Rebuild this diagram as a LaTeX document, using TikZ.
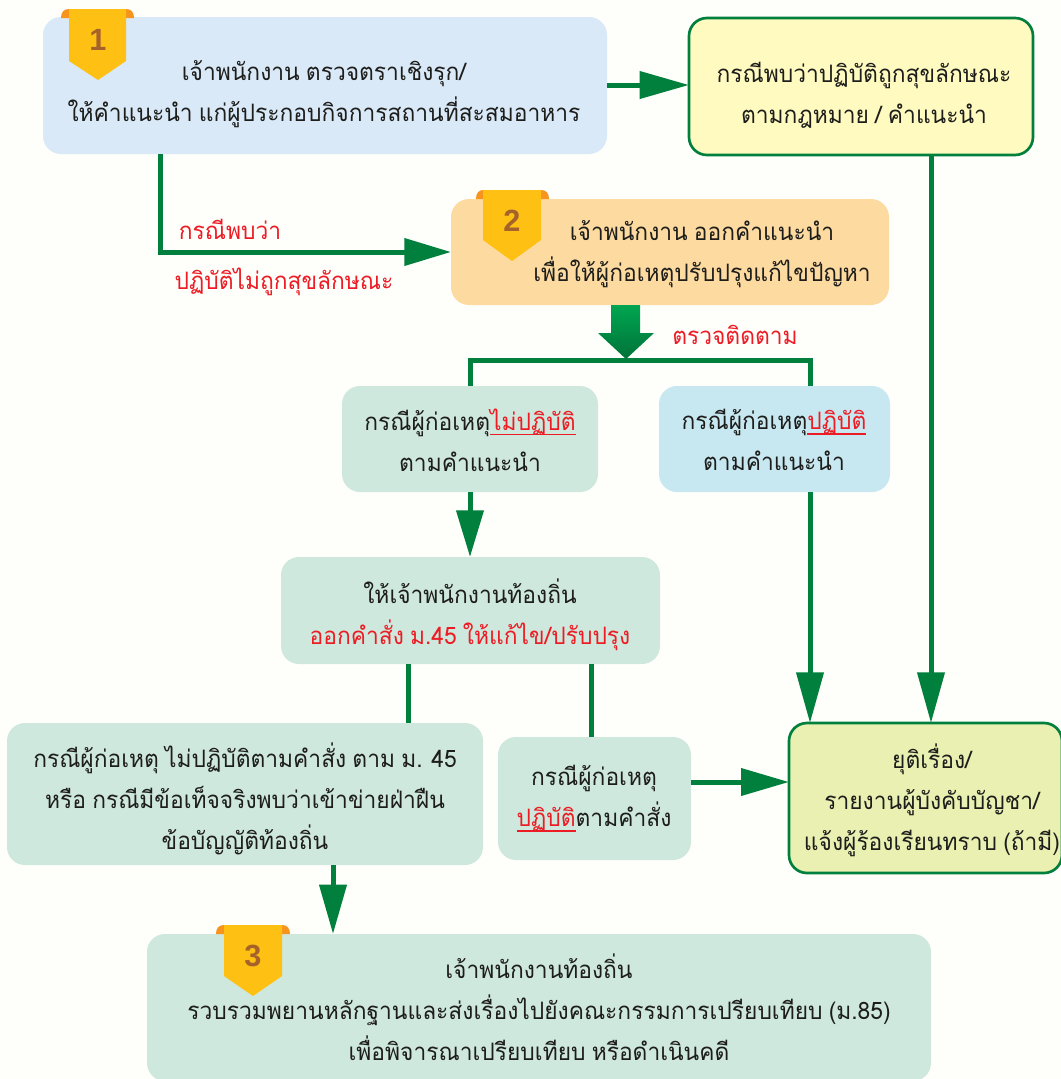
\documentclass[tikz,border=0pt]{standalone}
\usepackage{fontspec}
\setmainfont[Script=Thai,FakeStretch=0.95,WordSpace=0.8]{Loma}
\newfontfamily\numfont{Liberation Sans}
\usetikzlibrary{arrows.meta,fit}
\definecolor{bgc}{HTML}{FEFEFB}
\definecolor{gr}{HTML}{007F3D}
\definecolor{grtop}{HTML}{00A651}
\definecolor{grbot}{HTML}{007238}
\definecolor{rd}{HTML}{ED1C24}
\definecolor{ink}{HTML}{1D1D1B}
\definecolor{gold}{HTML}{FDC013}
\definecolor{ear}{HTML}{F7941D}
\definecolor{numc}{HTML}{A5622B}
\definecolor{cblue}{HTML}{D9E9F7}
\definecolor{cyell}{HTML}{FFFBC0}
\definecolor{corange}{HTML}{FDDBA0}
\definecolor{cmint}{HTML}{CFE8DD}
\definecolor{ccyan}{HTML}{C8E8F1}
\definecolor{colive}{HTML}{E9F0B1}
\newsavebox{\rulbox}
\newcommand{\ls}{\rule[-12pt]{0pt}{24pt}}
\newcommand{\rtext}[1]{\textcolor{rd}{#1}}
\newcommand{\rul}[1]{\textcolor{rd}{\sbox{\rulbox}{#1}\rlap{\rule[-3.8pt]{\wd\rulbox}{1.2pt}}\usebox{\rulbox}}}
\tikzset{
  bx/.style={rectangle,rounded corners=13.5pt,inner sep=0pt,outer sep=0pt},
  txt/.style={align=center,inner sep=0pt,text=ink,font=\fontsize{18}{30.6}\selectfont},
  redtxt/.style={txt,text=rd},
  conn/.style={draw=gr,line width=3.75pt},
  arr/.style={conn,-{Triangle[length=#1,width=20pt]}},
  arr/.default=36pt,
  rib/.style={fill=gold,draw=none},
  ribear/.style={fill=ear,draw=none},
  ribnum/.style={text=numc,inner sep=0pt,font=\numfont\bfseries\fontsize{23}{23}\selectfont},
}
\begin{document}
\begin{tikzpicture}[x=0.75pt,y=-0.75pt]
\path[use as bounding box,clip] (0,0) rectangle (1061,1079);
\fill[bgc] (0,0) rectangle (1061,1079);
% boxes
\node[bx,fill=cblue,fit={(43,17)(607,154)}] (b1) {};
\node[bx,fill=cyell,draw=gr,line width=2pt,fit={(689,18)(1033,155)}] (by) {};
\node[bx,fill=corange,fit={(451,199)(889,305)}] (b2) {};
\node[bx,fill=cmint,fit={(342,386)(598,492)}] (ba) {};
\node[bx,fill=ccyan,fit={(659,386)(890,492)}] (bb) {};
\node[bx,fill=cmint,fit={(281,557)(660,664)}] (bc) {};
\node[bx,fill=cmint,fit={(7,723)(483,865)}] (bd) {};
\node[bx,fill=cmint,fit={(498,737)(691,860)}] (be) {};
\node[bx,fill=colive,draw=gr,line width=2pt,fit={(789,723)(1062,873)}] (bf) {};
\node[bx,fill=cmint,fit={(147,934)(931,1081)}] (bg) {};
% connectors
\coordinate (j1) at (160,252);
\coordinate (jl) at (470,360);
\coordinate (jr) at (810,360);
\draw[arr=37pt] (b1.east |- 0,85) -- (by.west |- 0,85);
\draw[conn] (160,0 |- b1.south) -- (j1);
\draw[arr=35pt] (158,252) -- (b2.west |- j1);
\draw[conn] (jl |- ba.north) -- (jl) -- (jr) -- (jr |- bb.north);
\draw[arr=35pt] (470,0 |- ba.south) -- (470,0 |- bc.north);
\draw[arr=38pt] (810,0 |- bb.south) -- (810,0 |- bf.north);
\draw[arr=38pt] (931,0 |- by.south) -- (931,0 |- bf.north);
\draw[conn] (408,0 |- bc.south) -- (408,0 |- bd.north);
\draw[conn] (591,0 |- bc.south) -- (591,0 |- be.north);
\draw[arr=36pt] (be.east |- 0,782) -- (bf.west |- 0,782);
\draw[arr=37pt] (333,0 |- bd.south) -- (333,0 |- bg.north);
\shade[top color=grtop,bottom color=grbot]
  (611,305) -- (640,305) -- (640,333) -- (654,333) -- (626,359) -- (598,333) -- (611,333) -- cycle;
% ribbons
\fill[ribear] (61,18) .. controls (61,12) and (64,9) .. (69,9) -- (126,9) .. controls (131,9) and (134,12) .. (134,18) -- cycle;
\fill[rib] (69,9) -- (126,9) -- (126,61) -- (98,80) -- (69,61) -- cycle;
\node[ribnum] (n1) at (98,40) {1};
\fill[ribear] (476,199) .. controls (476,193) and (479,190) .. (483,190) -- (541,190) .. controls (546,190) and (549,193) .. (549,199) -- cycle;
\fill[rib] (483,190) -- (541,190) -- (541,240) -- (512,261) -- (483,240) -- cycle;
\node[ribnum] (n2) at (512,221) {2};
\fill[ribear] (216,934) .. controls (216,928) and (219,925) .. (224,925) -- (282,925) .. controls (287,925) and (290,928) .. (290,934) -- cycle;
\fill[rib] (224,925) -- (282,925) -- (282,976) -- (253,996) -- (224,976) -- cycle;
\node[ribnum] (n3) at (253,956) {3};
% texts
\node[txt] (t1) at (324,99) {\ls เจ้าพนักงาน ตรวจตราเชิงรุก/\\\ls ให้คำแนะนำ แก่ผู้ประกอบกิจการสถานที่สะสมอาหาร};
\node[txt] (ty) at (864,101) {\ls กรณีพบว่าปฏิบัติถูกสุขลักษณะ\\\ls ตามกฎหมาย / คำแนะนำ};
\node[txt] (t2) at (702,259) {\ls เจ้าพนักงาน ออกคำแนะนำ\\\ls เพื่อให้ผู้ก่อเหตุปรับปรุงแก้ไขปัญหา};
\node[txt] (ta) at (470,448) {\ls กรณีผู้ก่อเหตุ\rul{ไม่ปฏิบัติ}\\\ls ตามคำแนะนำ};
\node[txt] (tb) at (774,448) {\ls กรณีผู้ก่อเหตุ\rul{ปฏิบัติ}\\\ls ตามคำแนะนำ};
\node[txt] (tc) at (470,620) {\ls ให้เจ้าพนักงานท้องถิ่น\\\ls \rtext{ออกคำสั่ง ม.45 ให้แก้ไข/ปรับปรุง}};
\node[txt] (td) at (245,804) {\ls กรณีผู้ก่อเหตุ ไม่ปฏิบัติตามคำสั่ง ตาม ม. 45\\หรือ กรณีมีข้อเท็จจริงพบว่าเข้าข่ายฝ่าฝืน\\\ls ข้อบัญญัติท้องถิ่น};
\node[txt] (te) at (594,804) {\ls กรณีผู้ก่อเหตุ\\\ls \rul{ปฏิบัติ}ตามคำสั่ง};
\node[txt] (tf) at (932,805) {\ls ยุติเรื่อง/\\รายงานผู้บังคับบัญชา/\\\ls แจ้งผู้ร้องเรียนทราบ (ถ้ามี)};
\node[txt] (tg) at (539,1015) {\ls เจ้าพนักงานท้องถิ่น\\รวบรวมพยานหลักฐานและส่งเรื่องไปยังคณะกรรมการเปรียบเทียบ (ม.85)\\\ls เพื่อพิจารณาเปรียบเทียบ หรือดำเนินคดี};
\node[redtxt] (l1) at (230,237) {\ls กรณีพบว่า};
\node[redtxt] (l2) at (284,287) {\ls ปฏิบัติไม่ถูกสุขลักษณะ};
\node[redtxt] (l3) at (735,343) {\ls ตรวจติดตาม};
\end{tikzpicture}
\end{document}
